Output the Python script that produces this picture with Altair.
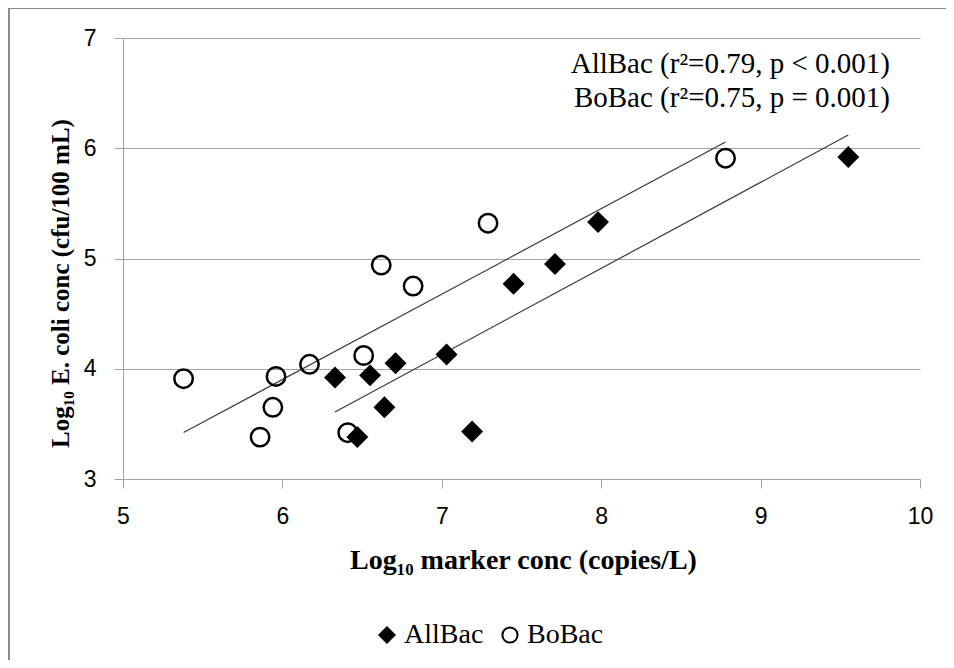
import altair as alt
import pandas as pd

# ---- data ----
series_names = ["AllBac", "BoBac"]
allbac_x = [6.33, 6.55, 6.71, 7.03, 6.64, 6.47, 7.19, 7.45, 7.71, 7.98, 9.55]
allbac_y = [3.92, 3.94, 4.05, 4.13, 3.65, 3.38, 3.43, 4.77, 4.95, 5.33, 5.92]
bobac_x = [5.38, 5.96, 6.17, 5.94, 5.86, 6.41, 6.51, 6.62, 6.82, 7.29, 8.78]
bobac_y = [3.91, 3.93, 4.04, 3.65, 3.38, 3.42, 4.12, 4.94, 4.75, 5.32, 5.91]
x_ticks = [5, 6, 7, 8, 9, 10]
y_ticks = [3, 4, 5, 6, 7]
annotations = ["AllBac (r²=0.79, p < 0.001)", "BoBac (r²=0.75, p = 0.001)"]

x_title = "Log₁₀ marker conc (copies/L)"
y_title = "Log₁₀ E. coli conc (cfu/100 mL)"

# BoBac first so that AllBac diamonds are drawn on top
df = pd.concat([
    pd.DataFrame({"x": bobac_x, "y": bobac_y, "series": "BoBac"}),
    pd.DataFrame({"x": allbac_x, "y": allbac_y, "series": "AllBac"}),
], ignore_index=True)

AXIS_GRAY = "#a3a3a3"

x_enc = alt.X(
    "x:Q",
    scale=alt.Scale(domain=[5, 10], nice=False, zero=False),
    axis=alt.Axis(
        values=x_ticks, format="d", title=x_title, grid=False, labelFlush=False,
        domainColor=AXIS_GRAY, tickColor=AXIS_GRAY, tickSize=9,
        labelFont="Liberation Sans", labelFontSize=23, labelColor="black",
        labelPadding=17,
        titleFont="Liberation Serif", titleFontWeight="bold", titleFontSize=28,
        titleColor="black", titleX=400, titleY=89, titleBaseline="alphabetic",
        titleAlign="center",
    ),
)
y_enc = alt.Y(
    "y:Q",
    scale=alt.Scale(domain=[3, 7], nice=False, zero=False),
    axis=alt.Axis(
        values=y_ticks, format="d", title=y_title, grid=True, gridColor=AXIS_GRAY,
        labelFlush=False,
        domainColor=AXIS_GRAY, tickColor=AXIS_GRAY, tickSize=9,
        labelFont="Liberation Sans", labelFontSize=23, labelColor="black",
        labelPadding=18,
        titleFont="Liberation Serif", titleFontWeight="bold", titleFontSize=25,
        titleColor="black", titleX=-55, titleY=245, titleAngle=270,
        titleBaseline="alphabetic", titleAlign="center",
    ),
)

legend = alt.Legend(
    title=None, orient="none", legendX=250, legendY=583, direction="horizontal",
    labelFont="Liberation Serif", labelFontSize=28, labelColor="black",
    symbolSize=230, symbolStrokeWidth=2, symbolStrokeColor="black",
    columnPadding=12, labelOffset=3, padding=0,
)

points = alt.Chart(df).mark_point(
    size=340, strokeWidth=2.5, opacity=1
).encode(
    x=x_enc,
    y=y_enc,
    shape=alt.Shape("series:N", scale=alt.Scale(domain=series_names, range=["diamond", "circle"]), legend=legend),
    fill=alt.Fill("series:N", scale=alt.Scale(domain=series_names, range=["black", "transparent"]), legend=legend),
    stroke=alt.Stroke("series:N", scale=alt.Scale(domain=series_names, range=["black", "black"]), legend=legend),
)

trend = alt.Chart(df).transform_regression(
    "x", "y", groupby=["series"]
).mark_line(color="#3a3a3a", strokeWidth=1.2).encode(
    x="x:Q", y="y:Q", detail="series:N"
)

border = alt.Chart(pd.DataFrame({"d": [0]})).mark_rect(
    fillOpacity=0, stroke="#8c8c8c", strokeWidth=2
).encode(
    x=alt.value(-114), x2=alt.value(900), y=alt.value(-30), y2=alt.value(700)
)

texts = []
for i, t in enumerate(annotations):
    texts.append(
        alt.Chart(pd.DataFrame({"t": [t]})).mark_text(
            align="right", baseline="alphabetic", font="Liberation Serif",
            fontSize=29, color="black"
        ).encode(text="t:N", x=alt.value(767), y=alt.value(35 + 34 * i))
    )

chart = alt.layer(border, trend, points, *texts).properties(
    width=797, height=441,
    autosize=alt.AutoSizeParams(type="none"),
    padding={"left": 115, "top": 30, "right": 26, "bottom": 181},
).configure_view(strokeWidth=0)

chart.save("out.html", embed_options={"renderer": "svg", "actions": False})
